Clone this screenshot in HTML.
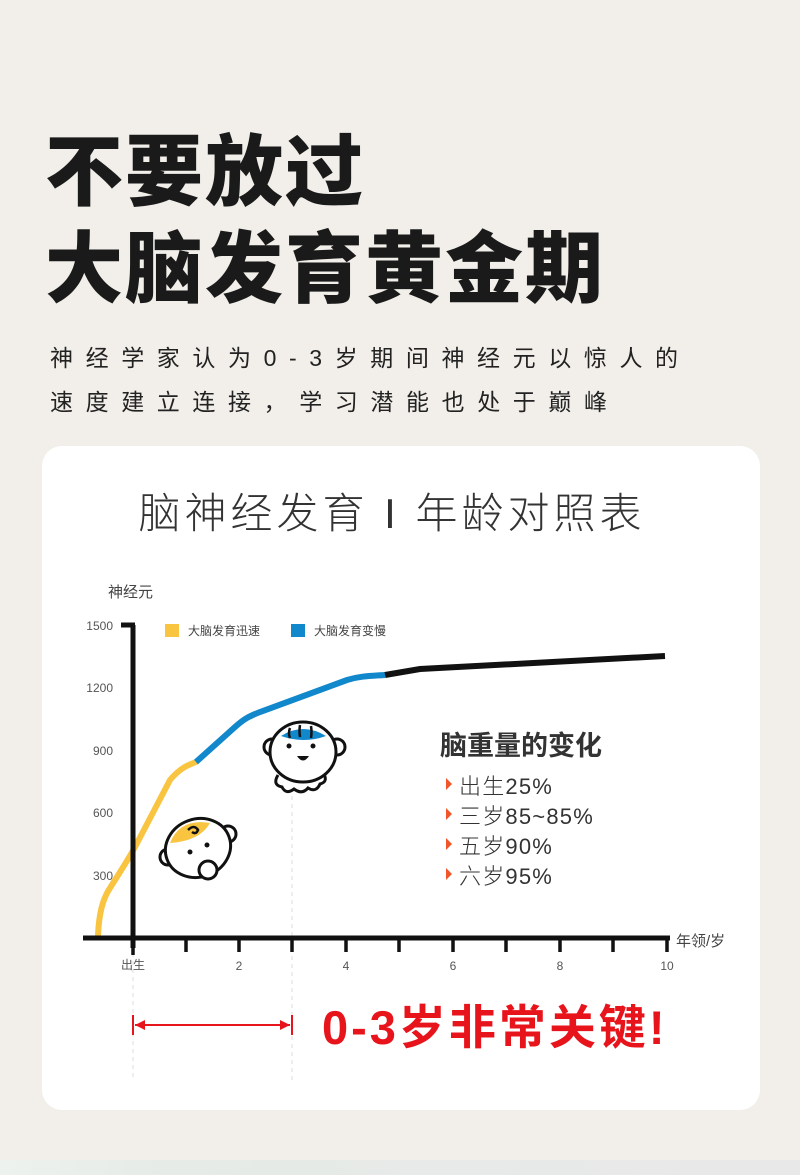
<!DOCTYPE html>
<html><head><meta charset="utf-8"><style>
*{margin:0;padding:0}
body{width:800px;height:1175px;background:#f2efea;position:relative;overflow:hidden;font-family:"Liberation Sans","Noto Sans CJK SC",sans-serif}
.t{position:absolute;left:45px;font-weight:900;font-size:78px;color:#1a1a1a;line-height:1;letter-spacing:2px}
.s{position:absolute;left:50px;font-size:23px;color:#222;letter-spacing:12.6px;line-height:1}
.card{position:absolute;left:42px;top:446px;width:718px;height:664px;background:#fff;border-radius:20px}
.bot{position:absolute;left:0;top:1160px;width:800px;height:15px;background:linear-gradient(90deg,#eef2ee,#e6ebe7 20%,#e8e8e8)}
</style></head><body>
<div class="t" style="top:133px">不要放过</div>
<div class="t" style="top:230px">大脑发育黄金期</div>
<div class="s" style="top:347px">神经学家认为0-3岁期间神经元以惊人的</div>
<div class="s" style="top:391px">速度建立连接，学习潜能也处于巅峰</div>
<div class="card"></div>
<div class="bot"></div>
<svg width="800" height="1175" style="position:absolute;left:0;top:0" font-family="Liberation Sans, Noto Sans CJK SC, sans-serif">
<text x="392" y="528" text-anchor="middle" font-size="42" fill="#333" font-weight="300" letter-spacing="4">脑神经发育 I 年龄对照表</text>
<text x="108" y="597" font-size="15" fill="#444">神经元</text>
<g font-size="12" fill="#555" text-anchor="end">
<text x="113" y="630">1500</text><text x="113" y="692">1200</text><text x="113" y="755">900</text><text x="113" y="817">600</text><text x="113" y="880">300</text></g>
<rect x="165" y="624" width="14" height="13" fill="#f9c440"/><text x="188" y="635" font-size="12" fill="#444">大脑发育迅速</text>
<rect x="291" y="624" width="14" height="13" fill="#1187cc"/><text x="314" y="635" font-size="12" fill="#444">大脑发育变慢</text>
<g stroke="#ddd" stroke-dasharray="4,4" stroke-width="1"><line x1="133" y1="945" x2="133" y2="1080"/><line x1="292" y1="780" x2="292" y2="1080"/></g>
<path d="M98,935 C99,915 102,900 110,888 C120,872 128,860 135,847 L170,780 C180,768 188,765 196,762" fill="none" stroke="#f9c440" stroke-width="6" stroke-linecap="round"/>
<path d="M196,762 L235,727 C245,718 250,716 260,712 L347,680 C360,676 370,676 385,675" fill="none" stroke="#1187cc" stroke-width="6"/>
<path d="M385,675 L420,669 L665,656" fill="none" stroke="#111" stroke-width="6"/>
<g stroke="#111" stroke-width="5"><line x1="133" y1="625" x2="133" y2="948"/><line x1="83" y1="938" x2="670" y2="938"/>
<line x1="121" y1="625" x2="135" y2="625"/>
<g stroke-width="3.5"><line x1="186" y1="938" x2="186" y2="952"/><line x1="239" y1="938" x2="239" y2="952"/><line x1="292" y1="938" x2="292" y2="952"/><line x1="346" y1="938" x2="346" y2="952"/><line x1="399" y1="938" x2="399" y2="952"/><line x1="453" y1="938" x2="453" y2="952"/><line x1="506" y1="938" x2="506" y2="952"/><line x1="560" y1="938" x2="560" y2="952"/><line x1="613" y1="938" x2="613" y2="952"/><line x1="667" y1="938" x2="667" y2="952"/><line x1="133" y1="938" x2="133" y2="955"/></g></g>
<g font-size="12" fill="#555" text-anchor="middle"><text x="133" y="969">出生</text><text x="239" y="970">2</text><text x="346" y="970">4</text><text x="453" y="970">6</text><text x="560" y="970">8</text><text x="667" y="970">10</text></g>
<text x="676" y="946" font-size="15" fill="#444">年领/岁</text>
<text x="440" y="755" font-size="27" font-weight="bold" fill="#333">脑重量的变化</text>
<g font-size="22" fill="#333" font-weight="300" letter-spacing="1.2"><text x="459" y="794">出生25%</text><text x="459" y="824">三岁85~85%</text><text x="459" y="854">五岁90%</text><text x="459" y="884">六岁95%</text></g>
<g fill="#f0562a"><path d="M446,778 L452,784 L446,790Z"/><path d="M446,808 L452,814 L446,820Z"/><path d="M446,838 L452,844 L446,850Z"/><path d="M446,868 L452,874 L446,880Z"/></g>
<g stroke="#111" stroke-width="3" fill="#fff">
<path d="M278,775 q-6,10 4,12 q4,8 12,2 q8,6 14,-1 q8,5 12,-4 q8,-2 4,-10"/>
<circle cx="272" cy="747" r="8"/><circle cx="337" cy="747" r="8"/>
<ellipse cx="303" cy="752" rx="33" ry="30"/>
</g>
<path d="M281,736 q22,-14 45,0 q-22,8 -45,0z" fill="#1187cc"/>
<g stroke="#111" stroke-width="2.5" fill="none"><path d="M290,728 q-2,5 0,10"/><path d="M300,725 q-1,6 0,12"/><path d="M311,726 q1,6 0,12"/></g>
<circle cx="289" cy="746" r="2.5" fill="#111"/><circle cx="313" cy="746" r="2.5" fill="#111"/><path d="M297,756 h12 q-6,9 -12,0z" fill="#111"/>
<g stroke="#111" stroke-width="3" fill="#fff">
<circle cx="168" cy="857" r="8"/><circle cx="228" cy="834" r="8"/>
<ellipse cx="198" cy="848" rx="33" ry="29" transform="rotate(-20 198 848)"/>
</g>
<path d="M170,843 q10,-25 40,-20 q-10,18 -40,20z" fill="#f9c440"/>
<path d="M188,830 q6,-6 10,0 q-2,5 -6,2" stroke="#111" stroke-width="2.5" fill="none"/>
<circle cx="190" cy="852" r="2.5" fill="#111"/><circle cx="207" cy="845" r="2.5" fill="#111"/>
<circle cx="208" cy="870" r="9" fill="#fff" stroke="#111" stroke-width="3"/>
<g stroke="#e8141b" stroke-width="2"><line x1="135" y1="1025" x2="290" y2="1025"/><line x1="133" y1="1015" x2="133" y2="1035"/><line x1="292" y1="1015" x2="292" y2="1035"/></g>
<path d="M135,1025 l10,-5 v10z M290,1025 l-10,-5 v10z" fill="#e8141b"/>
<text x="322" y="1044" font-size="47" font-weight="bold" fill="#e8141b" letter-spacing="3">0-3岁非常关键!</text>
</svg>
</body></html>
